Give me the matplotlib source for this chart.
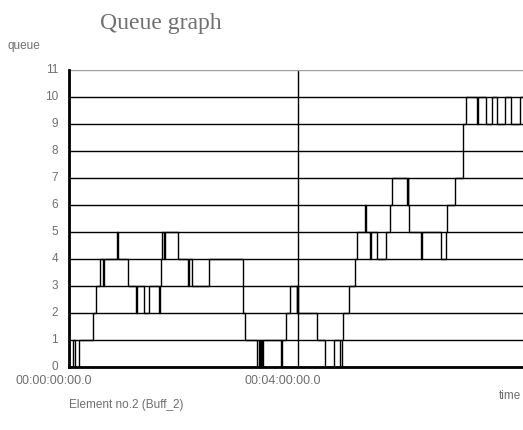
import matplotlib
matplotlib.use('Agg')
import matplotlib.pyplot as plt
import matplotlib.transforms as mtransforms

# queue length changes for Buff_2: event time (seconds) and queue length after the event
times = [0, 3.9, 6.7, 10.2, 25.6, 28.3, 32.9, 35.6, 36.2, 50.0, 50.8, 61.8, 70.2, 71.5,
         78.6, 83.3, 94.3, 95.4, 96.6, 97.5, 99.6, 100.8, 114.2, 124.7, 125.8, 128.3,
         146.7, 182.0, 182.4, 183.8, 196.7, 198.6, 200.2, 201.4, 202.5, 203.2, 221.5,
         223.2, 226.8, 231.0, 238.4, 239.1, 239.7, 259.3, 268.0, 277.7, 283.7, 285.5,
         287.2, 293.4, 299.4, 301.2, 309.9, 311.2, 315.1, 316.2, 322.8, 331.9, 336.1,
         338.5, 353.6, 355.0, 355.5, 356.0, 368.3, 369.3, 389.5, 394.8, 395.5, 404.2,
         412.9, 415.4, 427.0, 428.6, 436.7, 442.7, 448.5, 456.6, 462.6, 472.3, 476.0]
queue = [0, 1, 0, 1, 2, 3, 4, 3, 4, 5, 4, 3, 2, 3,
         2, 3, 2, 3, 4, 5, 4, 5, 4, 3, 4, 3,
         4, 3, 2, 1, 0, 1, 0, 1, 0, 1, 0,
         1, 2, 3, 2, 3, 2, 1, 0, 1, 0, 1,
         2, 3, 4, 5, 6, 5, 4, 5, 4, 5, 6,
         7, 6, 7, 6, 5, 4, 5, 4, 5, 6, 7,
         9, 10, 9, 10, 9, 10, 9, 10, 9, 10, 10]

x_ticks = [0, 240]
x_tick_labels = ['00:00:00:00.0', '00:04:00:00.0']
y_ticks = list(range(12))

txt_gray = '#6e6e6e'
plt.rcParams['font.family'] = ['Liberation Sans', 'DejaVu Sans']

fig = plt.figure(figsize=(5.23, 4.30), dpi=100)
ax = fig.add_axes([0.132, 0.1465, 0.868, 0.6907])

ax.step(times, queue, where='post', color='black', lw=1)

ax.set_xlim(0, 475.5)
ax.set_ylim(0, 11)
ax.set_yticks(y_ticks)
ax.set_xticks(x_ticks)
ax.set_xticklabels(x_tick_labels)
ax.tick_params(length=0, labelcolor=txt_gray)
ax.tick_params(axis='y', pad=8, labelsize=8.5)
ax.tick_params(axis='x', pad=6, labelsize=9)

# x labels sit a little left of their gridline, y labels a touch high
shift_x = mtransforms.ScaledTranslation(-15 / 100, 0, fig.dpi_scale_trans)
for lab in ax.get_xticklabels():
    lab.set_transform(lab.get_transform() + shift_x)
shift_y = mtransforms.ScaledTranslation(0, 2 / 100, fig.dpi_scale_trans)
for lab in ax.get_yticklabels():
    lab.set_transform(lab.get_transform() + shift_y)

ax.grid(True, color='black', lw=1)
ax.set_axisbelow(True)
ax.get_ygridlines()[-1].set_color('#a0a0a0')

for side in ['top', 'right']:
    ax.spines[side].set_visible(False)
ax.spines['left'].set_linewidth(2)
ax.spines['bottom'].set_linewidth(2)

fig.text(100 / 523, 1 - 23 / 430, 'Queue graph', family='Liberation Serif', fontsize=17,
         color='#707070', va='center', ha='left')
fig.text(8 / 523, 1 - 46 / 430, 'queue', fontsize=8.5, color=txt_gray, va='center')
fig.text(521 / 523, 1 - 396 / 430, 'time', fontsize=8.5, color=txt_gray, va='center', ha='right')
fig.text(69 / 523, 1 - 405 / 430, 'Element no.2 (Buff_2)', fontsize=8.5, color=txt_gray,
         va='center', ha='left')

fig.savefig('out.png', dpi=100)
